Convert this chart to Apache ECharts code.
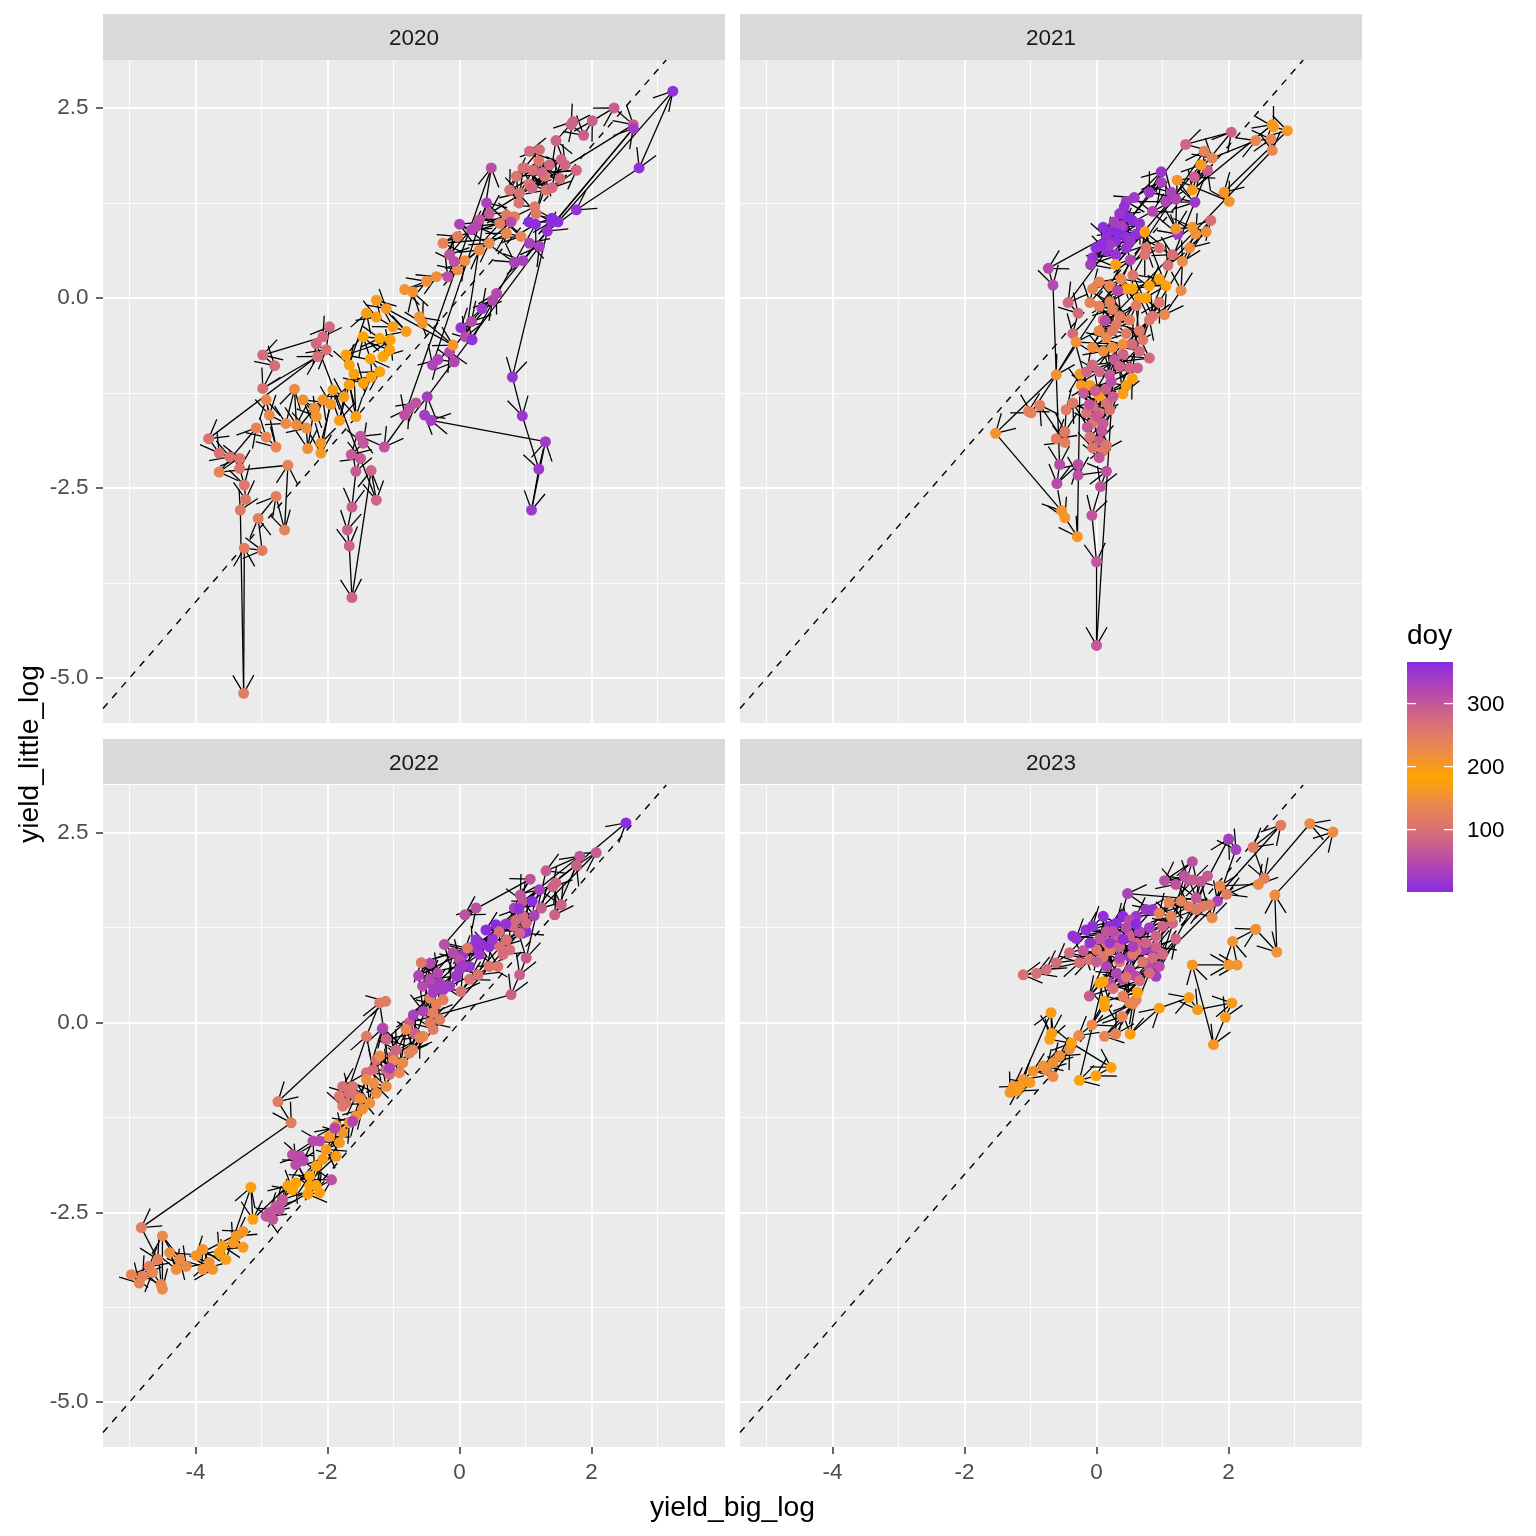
<!DOCTYPE html>
<html><head><meta charset="utf-8">
<script src="https://cdn.jsdelivr.net/npm/echarts@6/dist/echarts.min.js"></script>
<style>html,body{margin:0;padding:0;background:#fff}#chart{width:1536px;height:1536px}</style>
</head><body><div id="chart"></div><script>
// ---------- data: [yield_big_log, yield_little_log, doy] in time order ----------
const years = ['2020', '2021', '2022', '2023'];

const points2020 = [
[1.05,1.00,2],[1.39,1.00,4],[1.49,1.00,6],[3.23,2.72,8],[2.72,1.71,10],[1.77,1.16,12],[1.33,0.88,14],
[0.80,-1.04,16],[0.95,-1.55,18],[1.20,-2.25,20],[1.09,-2.79,22],[1.30,-1.89,24],[-0.43,-1.61,26],
[-0.53,-1.54,28],[-0.49,-1.30,30],[1.21,0.68,32],[1.06,0.72,34],[0.41,1.25,36],[-0.41,-0.88,38],
[-0.33,-0.81,40],[-0.08,-0.84,42],[-0.15,-0.71,44],[0.50,-0.03,46],[0.56,0.06,48],[0.18,-0.31,50],
[0.09,-0.51,52],[0.48,1.71,54],[-0.83,-1.54,56],[-0.76,-1.45,58],[-0.66,-1.38,60],[-1.14,-1.96,62],
[-1.50,-1.82,64],[-1.46,-1.91,66],[-1.64,-2.06,68],[-1.50,-2.11,70],[-1.57,-2.28,72],[-1.63,-2.75,74],
[-1.70,-3.05,76],[-1.67,-3.26,78],[-1.63,-3.94,80],[-1.34,-2.27,82],[-1.26,-2.66,84],[-2.17,-0.60,86],
[-1.97,-0.38,88],[-2.07,-0.51,90],[-2.98,-0.75,92],[-2.80,-0.89,94],[-2.98,-1.19,96],[-2.15,-0.77,98],
[-2.02,-0.68,100],[-3.80,-1.85,102],[-3.64,-2.04,104],[-3.48,-2.09,106],[-3.33,-2.11,108],[-3.33,-2.24,109],
[-3.26,-2.46,110],[-3.24,-2.65,112],[-3.32,-2.79,114],[-3.27,-5.20,116],[-3.26,-3.29,118],[-2.99,-3.32,120],
[-3.05,-2.90,122],[-2.78,-2.61,124],[-2.65,-3.05,126],[-2.60,-2.20,128],[-3.64,-2.29,130],[-3.08,-1.71,132],
[-2.93,-1.83,134],[-2.78,-1.96,136],[-2.93,-1.34,138],[-2.88,-1.54,140],[-2.63,-1.65,142],[-2.50,-1.20,144],
[-2.47,-1.67,146],[-2.32,-1.71,148],[-2.30,-1.98,150],[-2.20,-1.45,151],[-2.37,-1.34,153],[-2.17,-1.56,156],
[-2.07,-1.34,159],[-1.95,-1.40,160],[-2.10,-1.91,162],[-2.10,-2.04,164],[-1.92,-1.21,167],[-1.75,-1.30,169],
[-1.82,-1.61,170],[-1.67,-1.14,172],[-1.57,-1.56,174],[-1.60,-1.00,175],[-1.46,-1.12,176],[-1.34,-1.04,178],
[-1.21,-0.97,180],[-1.35,-0.80,181],[-1.46,-0.51,182],[-1.21,-0.53,184],[-1.06,-0.68,186],[-1.16,-0.77,188],
[-1.05,-0.55,189],[-1.72,-0.75,190],[-1.67,-0.88,192],[-1.41,-0.20,194],[-1.26,-0.25,196],[-1.01,-0.38,198],
[-0.81,-0.44,200],[-1.26,-0.03,202],[-1.11,-0.14,204],[-0.10,-0.62,206],[-0.61,-0.25,208],[-0.56,-0.33,210],
[-0.71,0.08,212],[-0.83,0.11,214],[-0.50,0.22,216],[-0.35,0.28,218],[-0.03,0.37,220],[0.08,0.49,222],
[0.30,0.63,224],[0.45,0.72,226],[0.71,0.85,228],[0.93,0.81,232],[-0.25,0.72,236],[-0.03,0.81,240],
[0.61,0.98,244],[0.71,1.09,248],[0.83,1.07,250],[1.14,1.20,252],[1.16,1.11,254],[1.29,1.60,256],
[1.05,1.50,257],[1.31,1.42,258],[1.20,1.80,259],[0.86,1.60,260],[0.90,1.25,261],[0.96,1.71,262],
[0.76,1.42,264],[0.91,1.38,266],[1.11,1.68,268],[0.98,1.71,270],[1.21,1.95,272],[1.06,1.93,274],
[1.52,1.57,276],[1.40,1.45,277],[1.77,1.68,278],[1.25,1.65,279],[1.36,1.75,280],[1.10,1.45,281],
[1.54,1.82,282],[1.60,1.75,283],[1.46,2.07,284],[1.72,2.32,286],[1.69,2.28,288],[1.88,2.14,290],
[2.01,2.33,292],[2.34,2.50,294],[2.63,2.28,296],[0.45,1.11,300],[0.30,1.03,304],[-0.15,0.57,308],
[-0.08,0.48,310],[-0.18,0.28,312],[0.78,1.00,316],[0.25,0.94,320],[0.18,0.90,324],[0.00,0.97,328],
[0.83,0.47,332],[0.96,0.49,336],[2.63,2.23,340],[0.34,-0.14,344],[0.02,-0.39,350],[0.19,-0.55,356],
[1.15,0.97,362],[1.40,1.05,366]
];

const points2021 = [
[0.45,1.07,1],[0.54,1.02,2],[0.40,0.93,3],[0.24,0.89,4],[0.10,0.93,5],[0.15,0.80,6],[0.29,0.75,7],
[0.45,0.80,8],[0.60,0.84,9],[-0.01,0.66,10],[0.15,0.62,11],[0.29,0.57,12],[-0.06,0.53,13],[0.45,0.66,14],
[0.65,0.98,15],[0.35,1.11,16],[0.98,1.66,18],[0.80,1.39,20],[1.49,1.26,22],[0.45,1.27,24],[0.57,1.32,26],
[1.23,0.84,28],[-0.09,0.44,30],[0.98,1.52,34],[1.13,1.39,38],[1.05,1.27,40],[1.20,1.30,42],[0.85,1.14,44],
[-0.73,0.39,46],[-0.66,0.17,48],[-0.56,-2.19,50],[-0.60,-2.44,52],[-0.28,-2.19,54],[-0.28,-2.33,56],
[0.15,-2.28,58],[0.06,-2.48,60],[-0.07,-2.86,62],[0.00,-3.47,64],[0.00,-4.57,66],[0.27,-0.81,68],
[0.20,-1.01,70],[0.10,-1.65,72],[0.04,-1.88,74],[1.68,1.68,76],[1.48,1.59,78],[2.04,2.18,80],
[1.35,2.02,84],[-0.43,-0.06,88],[-0.28,-0.20,90],[-0.36,-0.47,92],[-0.06,-1.42,94],[0.15,-1.38,96],
[0.04,-1.51,98],[0.20,-1.47,100],[-0.15,-1.51,102],[-0.06,-1.65,104],[-0.10,-1.83,106],[-0.06,-1.97,108],
[0.15,-1.94,110],[0.10,-2.01,112],[-0.36,-1.38,114],[-0.46,-1.47,116],[-0.48,-1.76,118],[-0.61,-1.85,120],
[-0.48,-1.90,122],[-0.86,-1.41,124],[-1.03,-1.49,126],[-0.99,-1.51,128],[1.63,1.93,130],[1.75,1.84,132],
[2.41,2.07,134],[2.64,2.09,136],[2.66,1.94,138],[0.04,-0.43,140],[0.15,-0.52,142],[-0.06,-0.65,144],
[0.10,-0.70,146],[0.24,-0.65,148],[0.40,-0.61,150],[-0.31,-0.58,152],[-0.61,-1.01,154],[-1.53,-1.78,156],
[-0.53,-2.80,158],[-0.48,-2.89,160],[-0.29,-3.14,162],[-0.25,-1.00,164],[-0.23,-1.15,166],[-0.10,-1.15,168],
[0.04,-1.29,170],[0.45,-1.15,172],[0.40,-1.26,174],[0.54,-1.06,176],[0.65,0.00,178],[0.75,0.00,180],
[0.45,0.12,182],[0.54,0.12,184],[0.95,0.25,186],[0.80,0.16,188],[1.05,0.16,190],[0.73,0.87,192],
[0.29,0.44,194],[1.58,1.75,196],[1.45,1.42,198],[2.66,2.28,200],[2.68,2.25,202],[2.89,2.20,204],
[1.93,1.39,206],[2.01,1.27,208],[1.22,1.55,210],[1.20,0.91,212],[1.45,0.93,214],[1.50,0.84,216],
[1.66,0.87,218],[1.41,0.66,220],[1.30,0.48,222],[1.28,0.10,224],[1.03,-0.22,226],[0.37,0.25,228],
[0.20,0.16,230],[0.04,0.21,232],[-0.06,0.12,234],[-0.10,-0.06,236],[0.20,-0.05,237],[0.04,-0.11,238],
[0.24,-0.15,240],[0.35,-0.24,242],[0.50,-0.29,244],[0.60,-0.10,245],[0.10,-0.29,246],[0.30,-0.35,247],
[0.24,-0.43,248],[0.45,-0.47,250],[0.65,-0.43,252],[0.70,-0.55,253],[0.80,-0.29,254],[0.95,-0.06,256],
[0.85,-0.24,258],[0.55,0.30,259],[0.73,0.57,260],[0.75,0.66,262],[0.95,0.66,264],[1.15,0.57,266],
[1.08,0.43,268],[1.73,1.02,270],[0.54,-0.61,272],[0.65,-0.70,274],[0.80,-0.79,276],[-0.06,-0.88,278],
[-0.15,-0.97,280],[0.04,-0.97,282],[0.40,-0.74,284],[0.35,-0.90,285],[0.50,-0.92,286],[0.62,-0.92,288],
[-0.02,-1.22,290],[0.14,-1.20,292],[0.25,-1.30,293],[-0.20,-1.25,295],[0.00,-1.55,296],[-0.14,-1.70,298],
[0.04,-2.10,300],[0.08,-1.75,304],[-0.11,-1.40,308],[0.22,-1.10,312],[0.13,-0.30,316],[0.32,0.10,320],
[0.51,0.50,324],[0.37,0.95,330],[0.27,1.00,336],[0.20,0.70,342],[0.51,0.75,348],[0.42,1.20,354],
[0.08,0.70,360],[0.32,0.85,365]
];

const points2022 = [
[0.55,1.29,1],[0.40,1.22,3],[1.01,1.20,5],[0.96,1.18,7],[0.33,1.03,9],[0.45,1.00,11],[0.25,1.09,13],
[0.20,1.00,15],[0.05,0.89,17],[0.15,0.74,19],[0.00,0.70,21],[-0.05,0.61,23],[-0.15,0.48,25],[-0.25,0.43,27],
[-0.30,0.52,29],[-0.40,0.48,31],[1.21,1.75,33],[0.83,1.51,35],[1.13,1.41,37],[-0.62,0.62,39],[-0.55,0.15,41],
[-0.45,0.78,43],[-0.33,0.65,45],[-0.45,0.57,47],[-0.56,0.48,49],[-0.10,0.92,51],[0.00,0.83,53],[-0.23,1.03,55],
[0.25,1.51,57],[0.08,1.42,59],[1.07,1.89,61],[0.92,1.68,63],[0.96,1.60,65],[1.82,2.19,67],[1.31,2.00,69],
[1.01,0.85,71],[0.91,0.63,73],[0.78,0.37,75],[-0.76,0.00,77],[-0.68,-0.14,79],[-1.11,-0.22,81],[-1.16,-0.07,83],
[-0.96,-0.36,85],[-1.01,-0.44,87],[-1.11,-0.62,89],[-1.06,-0.68,91],[-1.26,-0.49,93],[-1.31,-0.62,95],
[-1.41,-0.66,97],[-1.77,-0.84,99],[-1.67,-0.93,101],[-1.72,-1.06,103],[-1.57,-0.97,105],[-1.62,-0.84,107],
[-1.82,-0.97,109],[-1.77,-1.10,111],[-1.41,-0.18,113],[-1.21,0.26,115],[-1.12,0.28,117],[-2.75,-1.04,119],
[-2.55,-1.32,121],[-4.82,-2.70,123],[-4.57,-3.12,125],[-4.70,-3.21,127],[-4.80,-3.34,129],[-4.97,-3.32,131],
[-4.85,-3.43,133],[-4.65,-3.29,135],[-4.52,-3.45,137],[-4.50,-3.51,139],[-4.50,-2.81,141],[-4.14,-3.21,143],
[-4.24,-3.12,145],[-4.39,-3.03,147],[-4.29,-3.25,149],[-3.79,-3.16,151],[-3.89,-3.25,153],[-3.74,-3.25,155],
[-3.89,-2.99,157],[-3.99,-3.07,159],[-3.28,-2.75,161],[-3.38,-2.81,163],[-3.43,-2.90,165],[-3.28,-2.96,167],
[-3.59,-2.94,169],[-3.64,-3.03,171],[-3.54,-3.12,173],[-3.16,-2.17,175],[-3.13,-2.59,177],[-2.60,-2.15,179],
[-2.53,-2.20,181],[-2.48,-2.11,183],[-2.27,-2.02,185],[-2.27,-2.15,187],[-2.17,-2.15,189],[-2.12,-2.24,191],
[-2.30,-2.26,193],[-2.17,-1.89,195],[-2.07,-1.80,197],[-1.87,-1.76,199],[-2.02,-1.67,201],[-1.82,-1.58,203],
[-1.97,-1.50,205],[-1.87,-1.36,207],[-1.77,-1.45,209],[-1.67,-1.32,211],[-1.57,-1.23,213],[-1.47,-1.14,215],
[-1.50,-1.00,216],[-1.36,-1.06,217],[-1.41,-0.75,219],[-1.26,-0.93,221],[-1.30,-0.80,222],[-1.11,-0.84,223],
[-1.21,-0.44,225],[-0.86,-0.53,227],[-1.00,-0.50,228],[-0.91,-0.66,229],[-0.81,-0.09,231],[-0.55,-0.18,233],
[-0.71,-0.36,235],[-0.60,-0.20,236],[-0.76,-0.40,237],[-0.45,0.32,239],[-0.35,0.24,241],[-0.25,0.30,243],
[-0.40,0.13,245],[-0.30,0.04,247],[-0.45,0.00,249],[-0.40,-0.09,251],[-0.58,0.79,253],[0.12,0.98,255],
[0.58,0.74,257],[0.45,0.74,259],[0.28,0.63,261],[0.15,0.57,263],[0.02,0.41,265],[0.71,1.09,267],
[0.61,1.00,269],[0.60,1.20,270],[0.76,0.96,271],[0.66,0.90,273],[0.96,1.40,275],[1.01,1.31,277],
[0.85,1.35,278],[0.81,1.27,279],[0.91,1.18,281],[1.46,1.84,283],[1.41,1.79,285],[1.54,1.55,287],
[1.44,1.42,289],[1.77,2.07,291],[2.07,2.24,293],[1.24,1.51,295],[-2.68,-2.33,297],[-2.78,-2.42,299],
[-2.88,-2.50,301],[-2.83,-2.59,303],[-2.93,-2.55,305],[-2.73,-2.46,307],[-1.94,-2.07,309],[-2.53,-1.74,311],
[-2.42,-1.76,313],[-2.48,-1.87,315],[-2.37,-1.82,317],[-2.22,-1.56,319],[-2.12,-1.56,321],[-1.89,-1.39,323],
[-1.62,-1.30,325],[-1.17,-0.08,327],[-1.06,-0.60,329],[-0.70,0.10,333],[-0.40,0.40,337],[0.05,0.75,341],
[0.30,0.90,345],[0.50,1.10,349],[0.70,1.30,353],[0.90,1.50,357],[1.10,1.60,361],[2.52,2.63,365]
];

const points2023 = [
[0.40,1.40,1],[0.30,1.31,3],[0.20,1.27,5],[0.10,1.40,7],[-0.06,1.27,9],[-0.16,1.22,11],[-0.31,1.11,13],
[-0.36,1.14,15],[0.85,1.49,17],[0.75,1.49,19],[0.60,1.40,21],[0.50,0.87,23],[0.70,0.96,25],[0.85,0.92,27],
[0.90,0.61,29],[2.00,2.42,31],[2.11,2.28,33],[1.83,1.60,35],[0.47,1.70,37],[0.15,0.74,39],[0.30,0.65,41],
[0.20,0.52,43],[0.40,0.57,45],[0.50,0.70,47],[0.60,0.61,49],[0.80,0.74,51],[0.95,0.74,53],[1.45,2.12,55],
[1.03,1.87,57],[1.20,1.82,59],[1.33,1.93,61],[1.40,1.88,63],[1.51,1.64,65],[1.58,1.86,67],[1.68,1.93,69],
[1.46,1.88,71],[-0.11,0.35,73],[0.30,1.14,75],[0.50,1.14,77],[0.60,1.05,79],[0.75,1.05,81],[0.90,1.14,83],
[1.00,1.27,85],[1.15,1.31,87],[-0.41,0.92,91],[-0.61,0.79,93],[-0.76,0.70,95],[-0.91,0.65,97],[-1.11,0.63,99],
[-0.26,0.79,101],[-0.11,0.83,103],[0.00,0.96,105],[0.10,0.87,107],[0.15,1.05,109],[1.51,1.49,111],
[1.61,1.53,113],[1.71,1.55,115],[2.79,2.60,117],[2.37,2.31,119],[2.54,1.90,121],[1.97,1.69,123],
[0.40,0.35,125],[0.50,0.26,127],[0.60,0.30,129],[0.29,-0.15,131],[0.12,-0.18,133],[0.39,0.08,135],
[0.55,0.25,137],[-0.07,-0.03,139],[-0.27,-0.17,141],[-0.76,-0.62,143],[-0.66,-0.71,145],[-0.41,-0.35,147],
[-0.56,-0.44,149],[-0.66,-0.53,151],[-0.81,-0.57,153],[-0.96,-0.64,155],[-1.11,-0.75,157],[-1.26,-0.84,159],
[-1.31,-0.92,161],[-1.16,-0.84,163],[-1.01,-0.79,165],[-1.21,-0.90,167],[-0.69,0.13,169],[-0.68,-0.14,171],
[-0.71,-0.22,173],[-0.38,-0.27,175],[0.22,-0.59,177],[-0.01,-0.70,179],[-0.26,-0.76,181],[0.10,0.54,183],
[0.05,0.52,185],[0.12,0.21,187],[0.12,0.28,189],[0.62,0.40,191],[0.51,-0.15,193],[0.95,0.19,195],
[1.40,0.33,197],[1.53,0.17,199],[2.05,0.26,201],[1.95,0.07,203],[1.77,-0.29,205],[1.45,0.76,207],
[2.00,0.76,209],[2.13,0.76,211],[2.06,1.07,213],[2.41,1.23,215],[2.73,0.93,217],[2.70,1.68,219],
[3.58,2.51,221],[3.23,2.62,223],[2.45,1.82,225],[1.87,1.80,227],[1.75,1.38,229],[1.10,1.58,231],
[0.95,1.44,233],[1.13,1.40,235],[1.28,1.60,239],[1.40,1.53,243],[0.20,0.95,247],[0.25,1.00,249],
[0.35,0.80,251],[0.55,0.90,255],[0.60,0.95,257],[0.70,0.80,259],[0.45,0.60,263],[0.25,0.45,267],
[0.65,0.55,271],[0.80,0.65,275],[0.85,0.85,277],[1.00,0.90,279],[1.20,1.10,283],[0.90,1.00,287],
[0.35,1.00,291],[0.00,0.80,295],[-0.20,0.95,299],[0.15,1.20,303],[0.05,1.10,305],[0.25,1.20,311],
[0.50,1.35,315],[0.45,1.25,317],[0.65,1.20,323],[0.35,0.85,329],[0.55,1.00,335],[0.80,1.25,341],
[0.20,1.05,347],[-0.10,1.05,353],[0.40,1.10,359],[0.60,1.30,365]
];

const xMajorTicks = [-4, -2, 0, 2];
const xMinorTicks = [-5, -3, -1, 1, 3];
const yMajorTicks = [-5, -2.5, 0, 2.5];
const yMinorTicks = [-3.75, -1.25, 1.25];
const legendTicks = [100, 200, 300];
const doyRange = [1, 366];
const xRange = [-5.40, 4.02];
const yRange = [-5.59, 3.13];

// ---------- styling / layout ----------
const FONT = '"Liberation Sans", Arial, sans-serif';
const GRAD = ['#8A2BE2', '#B548AE', '#D56C7C', '#EA8850', '#FFA500', '#EA8850', '#D56C7C', '#B548AE', '#8A2BE2'];
const PW = 622, PH = 663, STRIP = 46;
const panels = [
  { left: 103, top: 60,  showX: false, showY: true },
  { left: 740, top: 60,  showX: false, showY: false },
  { left: 103, top: 785, showX: true,  showY: true },
  { left: 740, top: 785, showX: true,  showY: false }
];
const allPoints = [points2020, points2021, points2022, points2023];

const grid = [], xAxis = [], yAxis = [], series = [], graphic = [];
const scatterIdx = [];

panels.forEach((p, i) => {
  grid.push({ left: p.left, top: p.top, width: PW, height: PH - (i >= 2 ? 1 : 0), show: true,
    backgroundColor: '#EBEBEB', borderWidth: 0, containLabel: false, outerBoundsMode: 'none' });
  xAxis.push({ type: 'value', gridIndex: i, min: xRange[0], max: xRange[1], position: 'bottom',
    axisLine: { show: false, onZero: false },
    axisTick: { show: p.showX, customValues: xMajorTicks, length: 7, lineStyle: { color: '#333333', width: 1.5 } },
    axisLabel: { show: p.showX, customValues: xMajorTicks, color: '#4D4D4D', fontSize: 22.5, fontFamily: FONT,
      margin: 14, hideOverlap: false, formatter: v => String(v) },
    splitLine: { show: true, lineStyle: { color: '#FFFFFF', width: 1.8 } }, z: 0 });
  xAxis.push({ type: 'value', gridIndex: i, min: xRange[0], max: xRange[1], position: 'top',
    axisLine: { show: false, onZero: false },
    axisTick: { show: false, customValues: xMinorTicks },
    axisLabel: { show: false, customValues: xMinorTicks },
    splitLine: { show: true, lineStyle: { color: '#FFFFFF', width: 0.9 } }, z: 0 });
  yAxis.push({ type: 'value', gridIndex: i, min: yRange[0], max: yRange[1], position: 'left',
    axisLine: { show: false, onZero: false },
    axisTick: { show: p.showY, customValues: yMajorTicks, length: 7, lineStyle: { color: '#333333', width: 1.5 } },
    axisLabel: { show: p.showY, customValues: yMajorTicks, color: '#4D4D4D', fontSize: 22.5, fontFamily: FONT,
      margin: 14.5, hideOverlap: false, formatter: v => v.toFixed(1) },
    splitLine: { show: true, lineStyle: { color: '#FFFFFF', width: 1.8 } }, z: 0 });
  yAxis.push({ type: 'value', gridIndex: i, min: yRange[0], max: yRange[1], position: 'right',
    axisLine: { show: false, onZero: false },
    axisTick: { show: false, customValues: yMinorTicks },
    axisLabel: { show: false, customValues: yMinorTicks },
    splitLine: { show: true, lineStyle: { color: '#FFFFFF', width: 0.9 } }, z: 0 });

  const pts = allPoints[i];
  const segs = pts.slice(1).map((r, k) => [pts[k][0], pts[k][1], r[0], r[1]]);

  series.push({ type: 'line', xAxisIndex: 2 * i, yAxisIndex: 2 * i, silent: true, symbol: 'none',
    data: [[xRange[0], xRange[0]], [yRange[1], yRange[1]]],
    lineStyle: { color: '#000', width: 1.4, type: [7, 7] }, z: 2, animation: false });

  series.push({ type: 'custom', xAxisIndex: 2 * i, yAxisIndex: 2 * i, silent: true, clip: true,
    dimensions: ['x0', 'y0', 'x1', 'y1'], encode: { x: [0, 2], y: [1, 3] },
    data: segs, z: 3, animation: false,
    renderItem: (params, api) => {
      const a = api.coord([api.value(0), api.value(1)]);
      const b = api.coord([api.value(2), api.value(3)]);
      const ang = Math.atan2(b[1] - a[1], b[0] - a[0]);
      const L = 21, th = Math.PI / 6;
      const p1 = [b[0] - L * Math.cos(ang - th), b[1] - L * Math.sin(ang - th)];
      const p2 = [b[0] - L * Math.cos(ang + th), b[1] - L * Math.sin(ang + th)];
      return { type: 'group', children: [
        { type: 'line', shape: { x1: a[0], y1: a[1], x2: b[0], y2: b[1] }, style: { stroke: '#000', lineWidth: 1.3 } },
        { type: 'polyline', shape: { points: [p1, b, p2] }, style: { stroke: '#000', fill: null, lineWidth: 1.3 } }
      ] };
    } });

  scatterIdx.push(series.length);
  series.push({ type: 'scatter', xAxisIndex: 2 * i, yAxisIndex: 2 * i, silent: true,
    symbol: 'circle', symbolSize: 11, data: pts, encode: { x: 0, y: 1 },
    itemStyle: { opacity: 1, borderWidth: 0 }, z: 4, animation: false });

  graphic.push({ type: 'rect', silent: true, shape: { x: p.left, y: p.top - STRIP, width: PW, height: STRIP - (i >= 2 ? 1 : 0) },
    style: { fill: '#D9D9D9' } });
  graphic.push({ type: 'text', silent: true, x: p.left + PW / 2, y: p.top - STRIP / 2 + 2,
    style: { text: years[i], fontSize: 22.5, fontFamily: FONT, fill: '#1A1A1A', align: 'center', verticalAlign: 'middle' } });
});

graphic.push({ type: 'text', silent: true, x: 732.5, y: 1508,
  style: { text: 'yield_big_log', fontSize: 28.3, fontFamily: FONT, fill: '#000', align: 'center', verticalAlign: 'middle' } });
graphic.push({ type: 'text', silent: true, x: 30, y: 754, rotation: Math.PI / 2,
  style: { text: 'yield_little_log', fontSize: 28.3, fontFamily: FONT, fill: '#000', align: 'center', verticalAlign: 'middle' } });

const barL = 1407, barT = 662, barW = 46, barH = 230;
const valToY = v => barT + (doyRange[1] - v) / (doyRange[1] - doyRange[0]) * barH;
graphic.push({ type: 'text', silent: true, x: 1407, y: 636,
  style: { text: 'doy', fontSize: 28, fontFamily: FONT, fill: '#000', align: 'left', verticalAlign: 'middle' } });
graphic.push({ type: 'rect', silent: true, shape: { x: barL, y: barT, width: barW, height: barH },
  style: { fill: { type: 'linear', x: 0, y: 0, x2: 0, y2: 1,
    colorStops: GRAD.slice().reverse().map((c, k) => ({ offset: k / (GRAD.length - 1), color: c })) } } });
legendTicks.forEach(v => {
  const y = valToY(v);
  graphic.push({ type: 'line', silent: true, shape: { x1: barL, y1: y, x2: barL + 9, y2: y }, style: { stroke: '#fff', lineWidth: 1.3 } });
  graphic.push({ type: 'line', silent: true, shape: { x1: barL + barW - 9, y1: y, x2: barL + barW, y2: y }, style: { stroke: '#fff', lineWidth: 1.3 } });
  graphic.push({ type: 'text', silent: true, x: 1467, y: y + 1,
    style: { text: String(v), fontSize: 22.5, fontFamily: FONT, fill: '#000', align: 'left', verticalAlign: 'middle' } });
});

const chart = echarts.init(document.getElementById('chart'), null, { renderer: 'canvas' });
chart.setOption({
  backgroundColor: '#FFFFFF',
  animation: false,
  grid, xAxis, yAxis, series, graphic,
  visualMap: [{ type: 'continuous', show: false, min: doyRange[0], max: doyRange[1], dimension: 2,
    seriesIndex: scatterIdx, inRange: { color: GRAD } }]
});
</script></body></html>
